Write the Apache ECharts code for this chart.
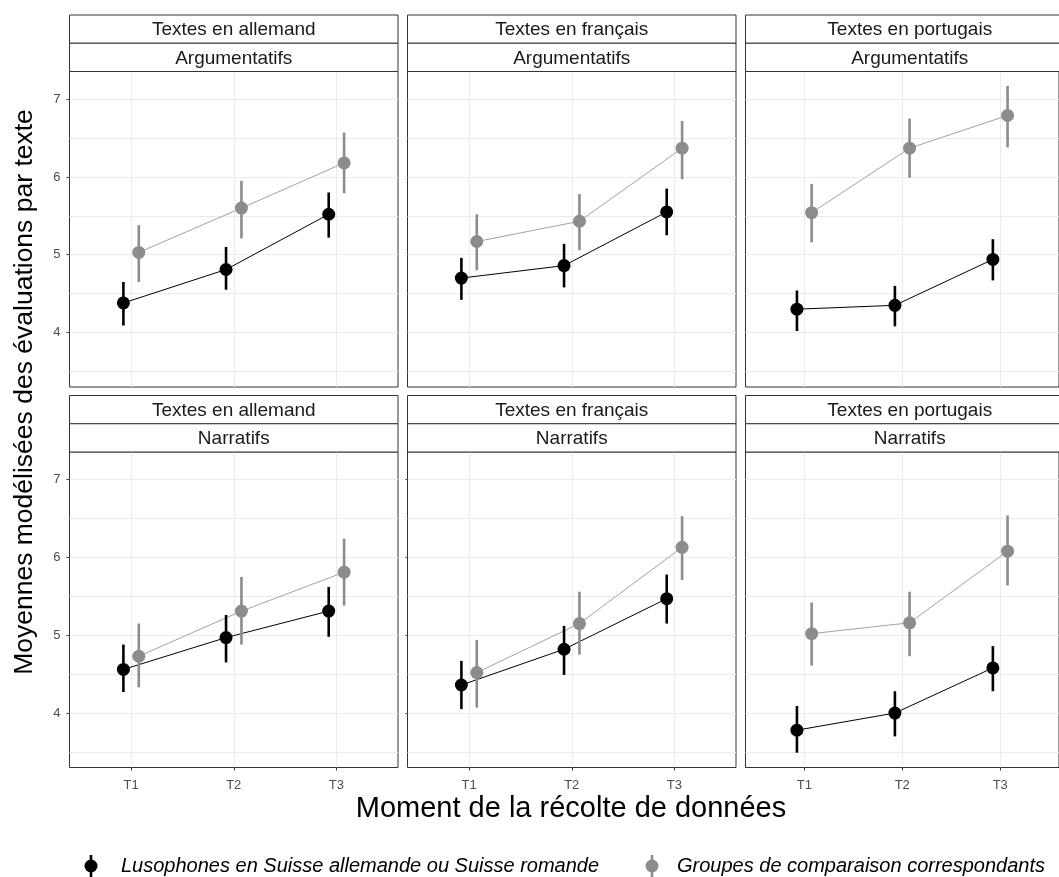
<!DOCTYPE html>
<html><head><meta charset="utf-8">
<script src="https://cdn.jsdelivr.net/npm/echarts@6/dist/echarts.min.js"></script>
<style>html,body{margin:0;padding:0;background:#fff}#c{width:1059px;height:877px}</style>
</head><body><div id="c"></div>
<script>
// ---- data ----
const times = ['T1', 'T2', 'T3'];
const languages = ['Textes en allemand', 'Textes en français', 'Textes en portugais'];
const genres = ['Argumentatifs', 'Narratifs'];
const groups = ['Lusophones en Suisse allemande ou Suisse romande', 'Groupes de comparaison correspondants'];
const yTicks = [4, 5, 6, 7];
const yGrid = [3.5, 4, 4.5, 5, 5.5, 6, 6.5, 7];
// panels: allemand-arg, français-arg, portugais-arg, allemand-narr, français-narr, portugais-narr
const lusoMean = [[4.38, 4.81, 5.52], [4.70, 4.86, 5.55], [4.30, 4.35, 4.94], [4.56, 4.97, 5.31], [4.36, 4.82, 5.47], [3.78, 4.00, 4.58]];
const lusoLow  = [[4.09, 4.55, 5.22], [4.42, 4.58, 5.25], [4.02, 4.08, 4.67], [4.27, 4.65, 4.98], [4.05, 4.49, 5.15], [3.49, 3.70, 4.28]];
const lusoHigh = [[4.65, 5.10, 5.80], [4.96, 5.14, 5.85], [4.54, 4.60, 5.20], [4.88, 5.26, 5.62], [4.67, 5.12, 5.78], [4.09, 4.28, 4.86]];
const compMean = [[5.03, 5.60, 6.18], [5.17, 5.43, 6.37], [5.54, 6.37, 6.79], [4.73, 5.31, 5.81], [4.52, 5.15, 6.13], [5.02, 5.16, 6.08]];
const compLow  = [[4.65, 5.21, 5.79], [4.80, 5.06, 5.97], [5.16, 5.99, 6.38], [4.33, 4.88, 5.38], [4.07, 4.75, 5.71], [4.61, 4.73, 5.64]];
const compHigh = [[5.38, 5.95, 6.57], [5.52, 5.78, 6.72], [5.91, 6.75, 7.17], [5.15, 5.75, 6.24], [4.94, 5.56, 6.53], [5.42, 5.56, 6.54]];

// ---- layout ----
const FONT = '"Liberation Sans", Arial, sans-serif';
const colL = [69.5, 407.5, 745.5], PW = 328.5;
const rowT = [71.5, 452], PH = 315.5;
const stripTop = [15, 395.5], SH = 28.25;
const YMIN = 3.3, YMAX = 7.355, XMIN = 0.4, XMAX = 3.6, DODGE = 0.075;
const groupColor = ['#000000', '#8C8C8C'];
const lineColor = ['#000000', '#A3A3A3'];
const means = [lusoMean, compMean], lows = [lusoLow, compLow], highs = [lusoHigh, compHigh];

const chart = echarts.init(document.getElementById('c'), null, { renderer: 'canvas' });
const grids = [], xAxes = [], yAxes = [], series = [], graphics = [];

for (let p = 0; p < 6; p++) {
  const r = Math.floor(p / 3), c = p % 3;
  grids.push({ left: colL[c], top: rowT[r], width: PW, height: PH, show: true,
    borderColor: '#333333', borderWidth: 1, backgroundColor: '#ffffff' });
  xAxes.push({ gridIndex: p, type: 'value', min: XMIN, max: XMAX,
    axisLine: { show: false },
    axisTick: { show: r === 1, customValues: [1, 2, 3], length: 3, lineStyle: { color: '#333333' } },
    axisLabel: { show: r === 1, customValues: [1, 2, 3], formatter: v => times[Math.round(v) - 1],
      color: '#4D4D4D', fontSize: 13, fontFamily: FONT, margin: 11 },
    splitLine: { show: true, lineStyle: { color: '#EBEBEB', width: 1 } } });
  yAxes.push({ gridIndex: p, type: 'value', min: YMIN, max: YMAX, position: 'left',
    axisLine: { show: false },
    axisTick: { show: false, customValues: yGrid },
    axisLabel: { show: false },
    splitLine: { show: true, lineStyle: { color: '#EBEBEB', width: 1 } } });
  yAxes.push({ gridIndex: p, type: 'value', min: YMIN, max: YMAX, position: 'left', offset: 0,
    axisLine: { show: false },
    axisTick: { show: c === 0 || p === 4, customValues: yTicks, length: p === 4 ? 2 : 3, lineStyle: { color: '#333333' } },
    axisLabel: { show: c === 0, customValues: yTicks, color: '#4D4D4D', fontSize: 13, fontFamily: FONT, margin: 9 },
    splitLine: { show: false } });

  for (let g = 0; g < 2; g++) {
    const off = g === 0 ? -DODGE : DODGE;
    const pts = times.map((t, i) => [i + 1 + off, means[g][p][i]]);
    const bars = times.map((t, i) => [i + 1 + off, lows[g][p][i], highs[g][p][i]]);
    series.push({ name: groups[g], type: 'line', xAxisIndex: p, yAxisIndex: 2 * p, data: pts,
      showSymbol: false, silent: true, animation: false, z: 2 + g,
      lineStyle: { color: lineColor[g], width: 1 }, itemStyle: { color: groupColor[g] } });
    series.push({ name: groups[g], type: 'custom', xAxisIndex: p, yAxisIndex: 2 * p, data: bars,
      silent: true, animation: false, z: 4 + 2 * g, encode: { x: 0, y: [1, 2] },
      itemStyle: { color: groupColor[g] },
      renderItem: (params, api) => {
        const a = api.coord([api.value(0), api.value(1)]);
        const b = api.coord([api.value(0), api.value(2)]);
        return { type: 'line', shape: { x1: a[0], y1: a[1], x2: b[0], y2: b[1] },
          style: { stroke: groupColor[g], lineWidth: 2.6 } };
      } });
    series.push({ name: groups[g], type: 'scatter', xAxisIndex: p, yAxisIndex: 2 * p, data: pts,
      symbol: 'circle', symbolSize: 13, silent: true, animation: false, z: 5 + 2 * g,
      itemStyle: { color: groupColor[g], opacity: 1 } });
  }

  const labels = [languages[c], genres[r]];
  for (let k = 0; k < 2; k++) {
    graphics.push({ type: 'rect', z: 10,
      shape: { x: colL[c], y: stripTop[r] + k * SH, width: PW, height: SH },
      style: { fill: '#ffffff', stroke: '#333333', lineWidth: 1 } });
    graphics.push({ type: 'text', z: 11, x: colL[c] + PW / 2, y: stripTop[r] + k * SH + SH / 2 + 1,
      style: { text: labels[k], fill: '#1A1A1A', font: '19px ' + FONT, align: 'center', verticalAlign: 'middle' } });
  }
}

graphics.push({ type: 'text', z: 11, x: 571, y: 809,
  style: { text: 'Moment de la récolte de données', fill: '#000', font: '29px ' + FONT, align: 'center', verticalAlign: 'middle' } });
graphics.push({ type: 'text', z: 11, x: 25, y: 392, rotation: Math.PI / 2,
  style: { text: 'Moyennes modélisées des évaluations par texte', fill: '#000', font: '26.5px ' + FONT, align: 'center', verticalAlign: 'middle' } });

// legend (keys: point with vertical range)
const legendIconX = [91, 652], legendTextX = [121, 677], LEGY = 866;
for (let g = 0; g < 2; g++) {
  graphics.push({ type: 'rect', z: 11, shape: { x: legendIconX[g] - 1.3, y: LEGY - 11, width: 2.6, height: 22 },
    style: { fill: groupColor[g] } });
  graphics.push({ type: 'circle', z: 12, shape: { cx: legendIconX[g], cy: LEGY, r: 6.5 },
    style: { fill: groupColor[g] } });
  graphics.push({ type: 'text', z: 11, x: legendTextX[g], y: LEGY,
    style: { text: groups[g], fill: '#000', font: 'italic 20px ' + FONT, align: 'left', verticalAlign: 'middle' } });
}

chart.setOption({
  animation: false,
  grid: grids, xAxis: xAxes, yAxis: yAxes, series: series, graphic: graphics
});
</script></body></html>
